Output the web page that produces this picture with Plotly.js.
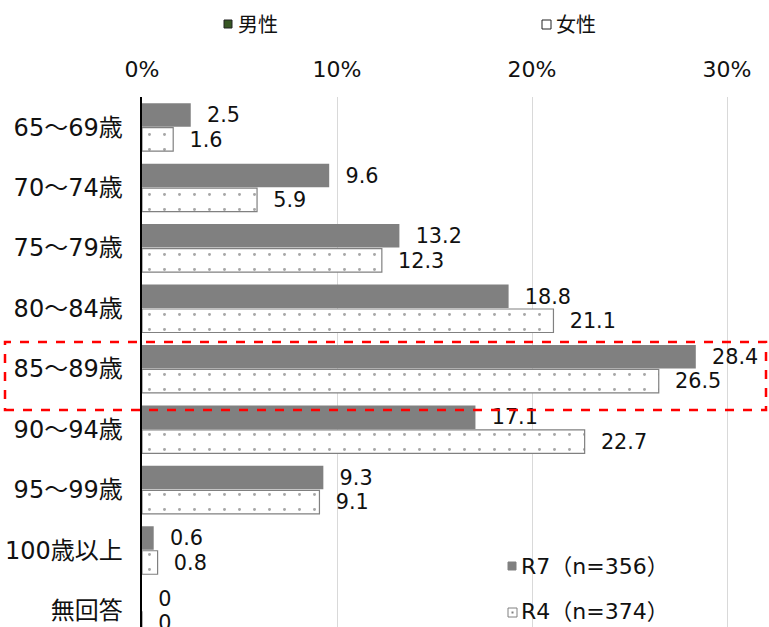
<!DOCTYPE html>
<html>
<head>
<meta charset="utf-8">
<script src="https://cdn.plot.ly/plotly-3.0.1.min.js"></script>
<style>body{margin:0;padding:0;background:#fff;}#chart{width:769px;height:627px;}</style>
</head>
<body>
<div id="chart"></div>
<script>
const categories = ["65～69歳","70～74歳","75～79歳","80～84歳","85～89歳","90～94歳","95～99歳","100歳以上","無回答"];
const r7Values = [2.5, 9.6, 13.2, 18.8, 28.4, 17.1, 9.3, 0.6, 0];
const r4Values = [1.6, 5.9, 12.3, 21.1, 26.5, 22.7, 9.1, 0.8, 0];
const seriesNames = ["R7（n=356）", "R4（n=374）"];
const xTicks = [0, 10, 20, 30];

const F = '"DejaVu Sans", "Noto Sans CJK JP", sans-serif';
const NB = '\u00a0\u00a0';

const traces = [
  {
    type: 'bar', orientation: 'h', name: seriesNames[0],
    y: categories, x: r7Values,
    text: r7Values.map(v => NB + String(v)),
    textposition: 'outside', cliponaxis: false,
    textfont: {family: F, size: 23, color: '#111'},
    marker: {color: '#808080', line: {color: '#808080', width: 0}},
    hoverinfo: 'x+y'
  },
  {
    type: 'bar', orientation: 'h', name: seriesNames[1],
    y: categories, x: r4Values,
    text: r4Values.map(v => NB + String(v)),
    textposition: 'outside', cliponaxis: false,
    textfont: {family: F, size: 23, color: '#111'},
    marker: {color: '#ffffff', line: {color: '#808080', width: 1.2},
      pattern: {shape: '.', fgcolor: '#a6a6a6', bgcolor: '#ffffff', size: 15, solidity: 0.03}},
    hoverinfo: 'x+y'
  }
];

// pixel -> paper helpers (plot area: left 142, width 624, top 97, height 530)
const L = 142, W = 624, T = 97, H = 530;
const px = x => (x - L) / W;
const py = y => (T + H - y) / H;

const shapes = [
  {type: 'rect', xref: 'paper', yref: 'paper', x0: px(5), x1: px(766), y0: py(410), y1: py(342),
   line: {color: '#ff0000', width: 2.5, dash: 'dash'}, fillcolor: 'rgba(0,0,0,0)', layer: 'above'},
  {type: 'rect', xref: 'paper', yref: 'paper', x0: px(224), x1: px(232), y0: py(28), y1: py(20),
   line: {color: '#222', width: 1}, fillcolor: '#375623'},
  {type: 'rect', xref: 'paper', yref: 'paper', x0: px(542), x1: px(551), y0: py(29), y1: py(20),
   line: {color: '#222', width: 1}, fillcolor: '#ffffff'},
  {type: 'rect', xref: 'paper', yref: 'paper', x0: px(508), x1: px(516), y0: py(570), y1: py(562),
   line: {color: '#808080', width: 1}, fillcolor: '#808080'},
  {type: 'rect', xref: 'paper', yref: 'paper', x0: px(508), x1: px(517), y0: py(617), y1: py(608),
   line: {color: '#808080', width: 1}, fillcolor: '#ffffff'},
  {type: 'rect', xref: 'paper', yref: 'paper', x0: px(511.5), x1: px(513.5), y0: py(613.5), y1: py(611.5),
   line: {color: '#808080', width: 0}, fillcolor: '#808080'}
];

const annotations = [
  {xref: 'paper', yref: 'paper', x: px(236), y: py(25), xanchor: 'left', yanchor: 'middle', showarrow: false,
   text: '男性', font: {family: F, size: 20, color: '#111'}},
  {xref: 'paper', yref: 'paper', x: px(554), y: py(25), xanchor: 'left', yanchor: 'middle', showarrow: false,
   text: '女性', font: {family: F, size: 20, color: '#111'}},
  {xref: 'paper', yref: 'paper', x: px(519), y: py(566), xanchor: 'left', yanchor: 'middle', showarrow: false,
   text: seriesNames[0], font: {family: F, size: 22, color: '#111'}},
  {xref: 'paper', yref: 'paper', x: px(519), y: py(611), xanchor: 'left', yanchor: 'middle', showarrow: false,
   text: seriesNames[1], font: {family: F, size: 22, color: '#111'}}
];

const layout = {
  width: 769, height: 627,
  margin: {l: L, r: 769 - L - W, t: T, b: 0, pad: 0},
  paper_bgcolor: '#fff', plot_bgcolor: '#fff',
  showlegend: false,
  barmode: 'group', bargap: 0.19, bargroupgap: 0.04,
  font: {family: F, color: '#111'},
  xaxis: {
    side: 'top', range: [0, 32], tickvals: xTicks, ticktext: xTicks.map(v => v + '%'),
    showgrid: true, gridcolor: '#d9d9d9', gridwidth: 1, zeroline: false,
    ticks: 'outside', ticklen: 10, tickcolor: 'rgba(0,0,0,0)',
    tickfont: {family: F, size: 22, color: '#111'}, fixedrange: true
  },
  yaxis: {
    type: 'category', range: [8.27, -0.5],
    showline: true, linecolor: '#000', linewidth: 2.5, showgrid: false, zeroline: false,
    ticks: 'outside', ticklen: 12, tickcolor: 'rgba(0,0,0,0)',
    tickfont: {family: F, size: 24, color: '#111'}, fixedrange: true
  },
  shapes: shapes,
  annotations: annotations
};

Plotly.newPlot('chart', traces, layout, {displayModeBar: false, staticPlot: true});
</script>
</body>
</html>
